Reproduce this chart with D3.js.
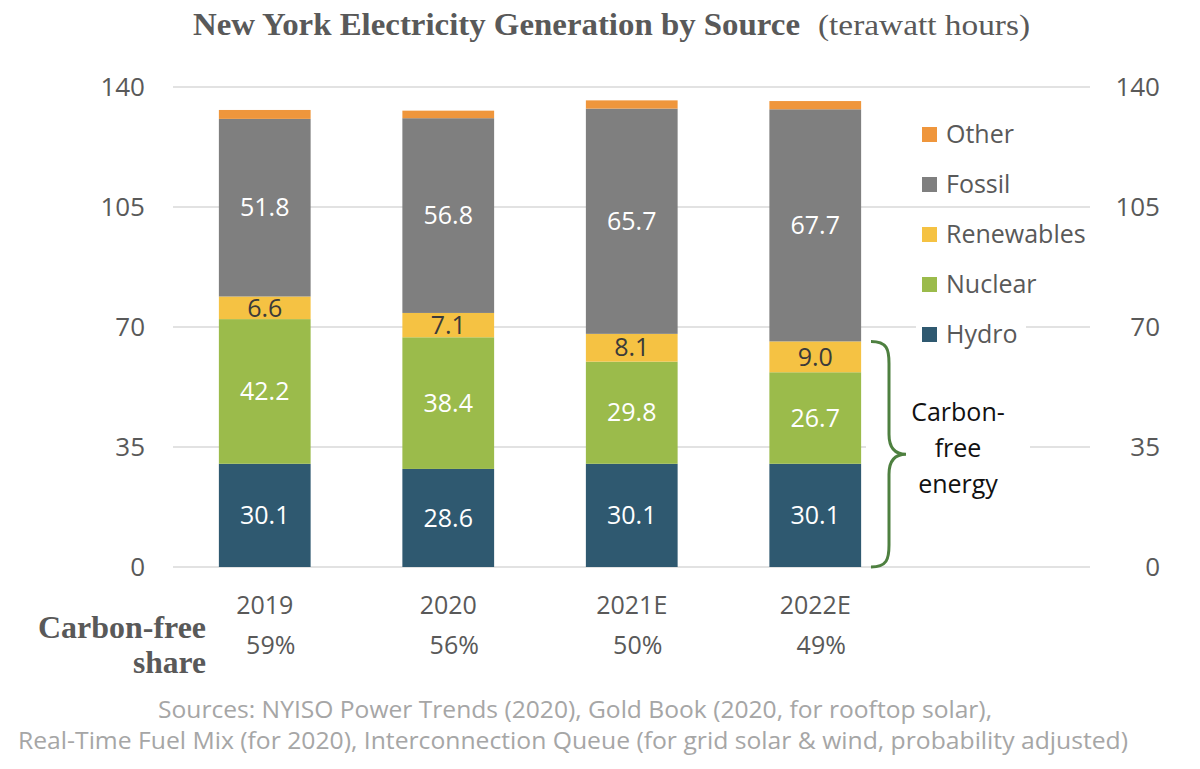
<!DOCTYPE html>
<html>
<head>
<meta charset="utf-8">
<script src="https://cdn.jsdelivr.net/npm/d3@7"></script>
<style>
  body { margin: 0; background: #fff; }
  svg { display: block; }
  .axis text { font-family: "Open Sans", sans-serif; font-size: 26px; fill: #595959; }
</style>
</head>
<body>
<svg width="1200" height="769"></svg>
<script>
var years = ['2019', '2020', '2021E', '2022E'];
var hydro = [30.1, 28.6, 30.1, 30.1];
var nuclear = [42.2, 38.4, 29.8, 26.7];
var renewables = [6.6, 7.1, 8.1, 9.0];
var fossil = [51.8, 56.8, 65.7, 67.7];
var other = [2.6, 2.2, 2.4, 2.4];
var carbonShare = ['59%', '56%', '50%', '49%'];
var yTicks = [0, 35, 70, 105, 140];

var keys = ['Hydro', 'Nuclear', 'Renewables', 'Fossil', 'Other'];
var colors = {
    Hydro: '#2F5970',
    Nuclear: '#9BBB4B',
    Renewables: '#F5C243',
    Fossil: '#7F7F7F',
    Other: '#EF963C'
};

var table = years.map(function(yr, i) {
    return { year: yr, Hydro: hydro[i], Nuclear: nuclear[i], Renewables: renewables[i], Fossil: fossil[i], Other: other[i] };
});

var svg = d3.select('svg');
svg.append('rect').attr('width', 1200).attr('height', 769).attr('fill', '#fff');

var yScale = d3.scaleLinear()
    .domain([0, 140])
    .range([567, 87]);

var xScale = d3.scaleBand()
    .domain(years)
    .range([173, 907])
    .paddingInner(0.5)
    .paddingOuter(0.25);

var plotRight = 1090;

// gridlines
svg.append('g')
    .selectAll('line')
    .data(yTicks)
    .enter()
    .append('line')
    .attr('x1', 173)
    .attr('x2', plotRight)
    .attr('y1', function(d) { return yScale(d); })
    .attr('y2', function(d) { return yScale(d); })
    .attr('stroke', '#D9D9D9')
    .attr('stroke-width', 1.5);

var leftAxis = d3.axisLeft(yScale).tickValues(yTicks).tickSize(0).tickPadding(28);
svg.append('g')
    .attr('class', 'axis')
    .attr('transform', 'translate(173,0)')
    .call(leftAxis)
    .call(function(g) { g.select('.domain').remove(); });

var rightAxis = d3.axisRight(yScale).tickValues(yTicks).tickSize(0).tickPadding(0);
svg.append('g')
    .attr('class', 'axis')
    .attr('transform', 'translate(' + plotRight + ',0)')
    .call(rightAxis)
    .call(function(g) {
        g.select('.domain').remove();
        g.selectAll('text').attr('text-anchor', 'end').attr('x', 70);
    });

// stacked bars
var series = d3.stack().keys(keys)(table);

var layers = svg.append('g')
    .selectAll('g')
    .data(series)
    .enter()
    .append('g')
    .attr('fill', function(d) { return colors[d.key]; });

layers.selectAll('rect')
    .data(function(d) { return d; })
    .enter()
    .append('rect')
    .attr('x', function(d) { return xScale(d.data.year); })
    .attr('width', xScale.bandwidth())
    .attr('y', function(d) { return yScale(d[1]); })
    .attr('height', function(d) { return yScale(d[0]) - yScale(d[1]); });

// value labels (skip "Other")
series.slice(0, 4).forEach(function(s) {
    svg.append('g')
        .selectAll('text')
        .data(s)
        .enter()
        .append('text')
        .attr('x', function(d) { return xScale(d.data.year) + xScale.bandwidth() / 2; })
        .attr('y', function(d) { return yScale((d[0] + d[1]) / 2); })
        .attr('dy', '0.35em')
        .attr('text-anchor', 'middle')
        .style('font-family', '"Open Sans", sans-serif')
        .style('font-size', '25px')
        .attr('fill', s.key === 'Renewables' ? '#3A3A3A' : '#fff')
        .text(function(d) { return (d[1] - d[0]).toFixed(1); });
});

// category labels + carbon-free share
svg.append('g')
    .selectAll('text')
    .data(years)
    .enter()
    .append('text')
    .attr('x', function(d) { return xScale(d) + xScale.bandwidth() / 2; })
    .attr('y', 605)
    .attr('dy', '0.35em')
    .attr('text-anchor', 'middle')
    .style('font-family', '"Open Sans", sans-serif')
    .style('font-size', '25px')
    .attr('fill', '#595959')
    .text(function(d) { return d; });

svg.append('g')
    .selectAll('text')
    .data(carbonShare)
    .enter()
    .append('text')
    .attr('x', function(d, i) { return xScale(years[i]) + xScale.bandwidth() / 2 + 6; })
    .attr('y', 645)
    .attr('dy', '0.35em')
    .attr('text-anchor', 'middle')
    .style('font-family', '"Open Sans", sans-serif')
    .style('font-size', '25px')
    .attr('fill', '#595959')
    .text(function(d) { return d; });

var shareLabel = svg.append('text')
    .style('font-family', '"Liberation Serif", serif')
    .style('font-size', '32px')
    .style('font-weight', 'bold')
    .attr('fill', '#595959');
shareLabel.append('tspan').attr('x', 38).attr('y', 638)
    .attr('textLength', 168).attr('lengthAdjust', 'spacingAndGlyphs')
    .text('Carbon-free');
shareLabel.append('tspan').attr('x', 133).attr('y', 673)
    .attr('textLength', 73).attr('lengthAdjust', 'spacingAndGlyphs')
    .text('share');

// legend (top to bottom: Other ... Hydro)
var legendKeys = keys.slice().reverse();
var legend = svg.append('g')
    .selectAll('g')
    .data(legendKeys)
    .enter()
    .append('g')
    .attr('transform', function(d, i) { return 'translate(922,' + (134 + i * 50) + ')'; });

legend.append('rect')
    .attr('x', -6)
    .attr('y', -16)
    .attr('width', 110)
    .attr('height', 32)
    .attr('fill', '#fff');

legend.append('rect')
    .attr('x', 0)
    .attr('y', -7)
    .attr('width', 15)
    .attr('height', 15)
    .attr('fill', function(d) { return colors[d]; });

legend.append('text')
    .attr('x', 24)
    .attr('y', 0)
    .attr('dy', '0.35em')
    .style('font-family', '"Open Sans", sans-serif')
    .style('font-size', '25px')
    .attr('fill', '#595959')
    .text(function(d) { return d; });

// carbon-free brace on last bar
var lastTop = series[2][3][1];
var bTop = yScale(lastTop), bBot = yScale(0), bMid = (bTop + bBot) / 2;
var bx = 871, spine = 889, tip = 906;

svg.append('rect')
    .attr('x', 866)
    .attr('y', bMid - 65)
    .attr('width', 164)
    .attr('height', 125)
    .attr('fill', '#fff');

svg.append('path')
    .attr('d', 'M' + bx + ',' + bTop +
        ' C' + (spine - 2) + ',' + bTop + ' ' + spine + ',' + (bTop + 8) + ' ' + spine + ',' + (bTop + 22) +
        ' L' + spine + ',' + (bMid - 20) +
        ' C' + spine + ',' + (bMid - 6) + ' ' + (spine + 6) + ',' + bMid + ' ' + tip + ',' + bMid +
        ' C' + (spine + 6) + ',' + bMid + ' ' + spine + ',' + (bMid + 6) + ' ' + spine + ',' + (bMid + 20) +
        ' L' + spine + ',' + (bBot - 22) +
        ' C' + spine + ',' + (bBot - 8) + ' ' + (spine - 2) + ',' + bBot + ' ' + bx + ',' + bBot)
    .attr('fill', 'none')
    .attr('stroke', '#4E8040')
    .attr('stroke-width', 3);

var cfText = svg.append('text')
    .attr('text-anchor', 'middle')
    .style('font-family', '"Open Sans", sans-serif')
    .style('font-size', '25px')
    .attr('fill', '#111');
['Carbon-', 'free', 'energy'].forEach(function(t, i) {
    cfText.append('tspan').attr('x', 958).attr('y', 421 + i * 36).text(t);
});

// title
var title = svg.append('text')
    .attr('y', 35)
    .style('font-family', '"Liberation Serif", serif')
    .attr('fill', '#595959');
title.append('tspan')
    .attr('x', 193)
    .style('font-size', '32px')
    .style('font-weight', 'bold')
    .attr('textLength', 607)
    .attr('lengthAdjust', 'spacingAndGlyphs')
    .text('New York Electricity Generation by Source');
title.append('tspan')
    .attr('x', 818)
    .style('font-size', '30px')
    .attr('textLength', 212)
    .attr('lengthAdjust', 'spacingAndGlyphs')
    .text('(terawatt hours)');

// sources
var src = svg.append('text')
    .attr('text-anchor', 'middle')
    .style('font-family', '"Open Sans", sans-serif')
    .style('font-size', '24px')
    .attr('fill', '#A6A6A6');
src.append('tspan').attr('x', 575).attr('y', 718)
    .attr('textLength', 834).attr('lengthAdjust', 'spacingAndGlyphs')
    .text('Sources: NYISO Power Trends (2020), Gold Book (2020, for rooftop solar),');
src.append('tspan').attr('x', 573).attr('y', 749)
    .attr('textLength', 1110).attr('lengthAdjust', 'spacingAndGlyphs')
    .text('Real-Time Fuel Mix (for 2020), Interconnection Queue (for grid solar & wind, probability adjusted)');
</script>
</body>
</html>
